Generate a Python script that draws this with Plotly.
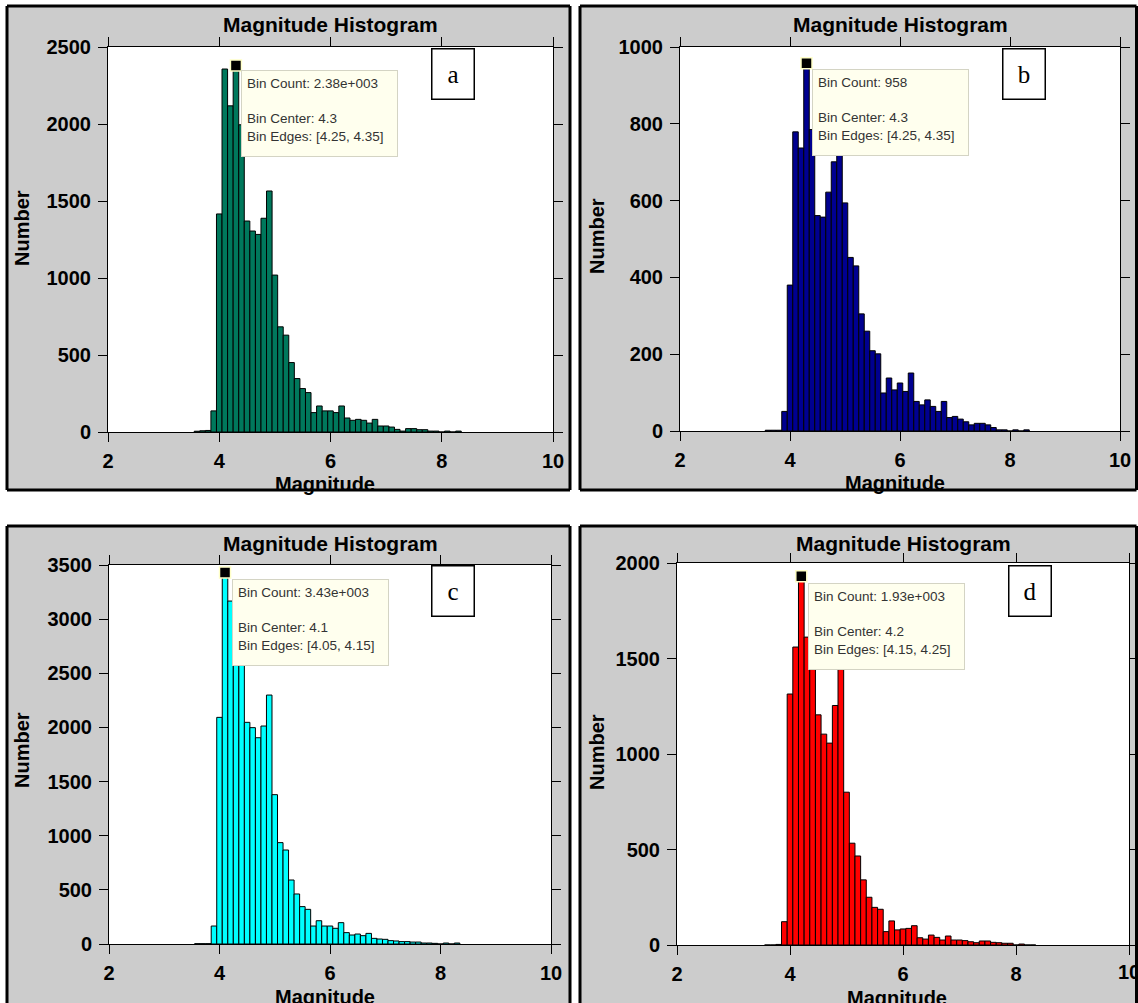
import plotly.graph_objects as go

W, H = 1138, 1003

bin_centers = [3.6, 3.7, 3.8, 3.9, 4.0, 4.1, 4.2, 4.3, 4.4, 4.5, 4.6, 4.7, 4.8, 4.9,
               5.0, 5.1, 5.2, 5.3, 5.4, 5.5, 5.6, 5.7, 5.8, 5.9, 6.0, 6.1, 6.2, 6.3,
               6.4, 6.5, 6.6, 6.7, 6.8, 6.9, 7.0, 7.1, 7.2, 7.3, 7.4, 7.5, 7.6, 7.7,
               7.8, 7.9, 8.0, 8.1, 8.2, 8.3]

counts_a = [5, 8, 10, 137, 1416, 2357, 2118, 2380, 1995, 1370, 1305, 1283, 1388, 1565,
            1019, 683, 629, 451, 347, 282, 256, 126, 169, 137, 137, 126, 169, 91,
            76, 82, 76, 58, 82, 39, 39, 32, 17, 6, 22, 22, 15, 15,
            6, 6, 0, 6, 0, 6]
counts_b = [2, 2, 2, 51, 380, 779, 737, 958, 785, 561, 557, 622, 701, 740,
            594, 452, 430, 305, 260, 209, 201, 99, 138, 107, 125, 103, 151, 77,
            68, 81, 64, 51, 77, 35, 38, 31, 24, 16, 20, 20, 16, 9,
            3, 3, 0, 3, 0, 3]
counts_c = [3, 3, 3, 166, 2093, 3430, 3167, 3050, 2650, 2047, 1998, 1905, 2013, 2299,
            1379, 936, 868, 591, 462, 345, 320, 166, 215, 166, 166, 145, 197, 105,
            83, 92, 77, 98, 52, 46, 43, 31, 28, 22, 22, 18, 18, 9,
            9, 6, 0, 9, 0, 9]
counts_d = [0, 0, 3, 122, 1314, 1560, 1930, 1612, 1480, 1205, 1104, 1057, 1254, 1500,
            800, 533, 466, 341, 250, 197, 187, 70, 126, 79, 84, 87, 101, 38,
            31, 52, 40, 26, 47, 26, 26, 23, 17, 12, 21, 21, 14, 12,
            9, 9, 0, 5, 0, 0]

x_ticks = [2, 4, 6, 8, 10]
x_tick_text = ["2", "4", "6", "8", "10"]
y_max = [2500, 1000, 3500, 2000]
y_dtick = [500, 200, 500, 500]

peak_bins = [4.3, 4.3, 4.1, 4.2]
tip_count = ["2.38e+003", "958", "3.43e+003", "1.93e+003"]
tip_center = ["4.3", "4.3", "4.1", "4.2"]
tip_edges = ["[4.25, 4.35]", "[4.25, 4.35]", "[4.05, 4.15]", "[4.15, 4.25]"]
letters = ["a", "b", "c", "d"]
colors = ["#00785C", "#000090", "#00FFFF", "#FF0000"]
all_counts = [counts_a, counts_b, counts_c, counts_d]

# layout geometry (pixels)
plot_boxes = [(108, 553, 47, 432), (680, 1120, 47, 431), (109, 551, 565, 944), (677, 1129, 563, 945)]
# frame: x0, x1, y0, y1, draw-bottom-border
frames = [(7, 570, 6, 490, True), (580, 1136.5, 6, 490, True),
          (7, 570, 526, 1003, False), (580, 1136.5, 526, 1003, False)]
title_y = [25, 25, 543, 543]
xlab_pos = [(325, 484), (895, 483), (325, 997), (897, 998)]
ylab_pos = [(22, 228), (597, 236), (22, 750), (597, 752)]
tip_pos = [(241, 70), (812, 69), (232, 579), (808, 583)]
letter_pos = [(453, 74), (1024, 74), (453, 591), (1030, 591)]


def px(x):
    return x / W


def py(y):
    return 1 - y / H


fig = go.Figure()
shapes = []
annotations = []
bold = dict(family="Liberation Sans, Arial", size=20, color="black", weight="bold")

for i in range(4):
    n = i + 1
    xa = "x" if n == 1 else f"x{n}"
    ya = "y" if n == 1 else f"y{n}"
    x0, x1, y0, y1 = plot_boxes[i]
    fx0, fx1, fy0, fy1, fbottom = frames[i]
    shapes.append(dict(type="rect", xref="paper", yref="paper",
                       x0=px(fx0), x1=px(fx1), y0=py(fy1), y1=py(fy0),
                       fillcolor="#CCCCCC", line=dict(width=0), layer="below"))
    border = [(fx0, fy0, fx1, fy0), (fx0, fy0, fx0, fy1), (fx1, fy0, fx1, fy1)]
    if fbottom:
        border.append((fx0, fy1, fx1, fy1))
    for (ax0, ay0, ax1, ay1) in border:
        shapes.append(dict(type="line", xref="paper", yref="paper",
                           x0=px(ax0), x1=px(ax1), y0=py(ay0), y1=py(ay1),
                           line=dict(color="black", width=3), layer="below"))
    shapes.append(dict(type="rect", xref="paper", yref="paper",
                       x0=px(x0), x1=px(x1), y0=py(y1), y1=py(y0),
                       fillcolor="white", line=dict(width=0), layer="below"))

    fig.add_trace(go.Bar(x=bin_centers, y=all_counts[i], width=0.1,
                         marker=dict(color=colors[i], line=dict(color="black", width=1)),
                         xaxis=xa, yaxis=ya, showlegend=False))
    pk = all_counts[i][bin_centers.index(peak_bins[i])]
    fig.add_trace(go.Scatter(x=[peak_bins[i]], y=[pk], mode="markers",
                             marker=dict(symbol="square", size=11, color="black",
                                         line=dict(color="#FFFFC8", width=1.5)),
                             xaxis=xa, yaxis=ya, showlegend=False, cliponaxis=False))

    ttext = list(x_tick_text)
    if n == 4:
        # last label sits on the page edge; drawn as an annotation so it is not dropped
        ttext[-1] = ""
        annotations.append(dict(text=x_tick_text[-1], xref="paper", yref="paper",
                                x=px(x1), y=py(y1 + 27), showarrow=False,
                                xanchor="center", yanchor="middle", font=bold))

    axcommon = dict(showline=True, linecolor="black", linewidth=1, mirror="ticks",
                    ticks="outside", ticklen=9, tickcolor="black", tickwidth=1,
                    showgrid=False, zeroline=False, tickfont=bold, fixedrange=True,
                    automargin=False)
    fig.update_layout(**{
        ("xaxis" if n == 1 else f"xaxis{n}"): dict(
            domain=[px(x0), px(x1)], range=[2, 10], tickvals=x_ticks, ticktext=ttext,
            anchor=ya, ticklabelstandoff=2, **axcommon),
        ("yaxis" if n == 1 else f"yaxis{n}"): dict(
            domain=[py(y1), py(y0)], range=[0, y_max[i]], dtick=y_dtick[i],
            anchor=xa, ticklabelstandoff=3, **axcommon),
    })

    annotations.append(dict(text="Magnitude Histogram", xref="paper", yref="paper",
                            x=px((x0 + x1) / 2), y=py(title_y[i]), showarrow=False,
                            xanchor="center", yanchor="middle", font=dict(bold, size=21)))
    annotations.append(dict(text="Magnitude", xref="paper", yref="paper",
                            x=px(xlab_pos[i][0]), y=py(xlab_pos[i][1]), showarrow=False,
                            xanchor="center", yanchor="middle", font=bold))
    annotations.append(dict(text="Number", xref="paper", yref="paper", textangle=-90,
                            x=px(ylab_pos[i][0]), y=py(ylab_pos[i][1]), showarrow=False,
                            xanchor="center", yanchor="middle", font=bold))
    tip_text = (f"Bin Count: {tip_count[i]}<br><br>Bin Center: {tip_center[i]}"
                f"<br>Bin Edges: {tip_edges[i]}")
    annotations.append(dict(text=tip_text, xref="paper", yref="paper",
                            x=px(tip_pos[i][0]), y=py(tip_pos[i][1]), showarrow=False,
                            xanchor="left", yanchor="top", align="left", valign="top",
                            width=145, height=75, borderpad=5, borderwidth=1,
                            bordercolor="#D4D4C4", bgcolor="#FFFFEE",
                            font=dict(family="Liberation Sans, Arial", size=13.5, color="#333333")))
    annotations.append(dict(text=letters[i], xref="paper", yref="paper",
                            x=px(letter_pos[i][0]), y=py(letter_pos[i][1]), showarrow=False,
                            xanchor="center", yanchor="middle", width=41, height=49,
                            borderpad=0, borderwidth=1.5, bordercolor="black", bgcolor="white",
                            font=dict(family="Liberation Serif, Times New Roman", size=25, color="black")))

fig.update_layout(width=W, height=H, margin=dict(l=0, r=0, t=0, b=0, autoexpand=False),
                  paper_bgcolor="white", plot_bgcolor="rgba(0,0,0,0)",
                  bargap=0, shapes=shapes, annotations=annotations, showlegend=False)

fig.write_html("out.html", config={"displayModeBar": False, "staticPlot": True},
               post_script="document.body.style.margin='0';document.body.style.overflow='hidden';")
